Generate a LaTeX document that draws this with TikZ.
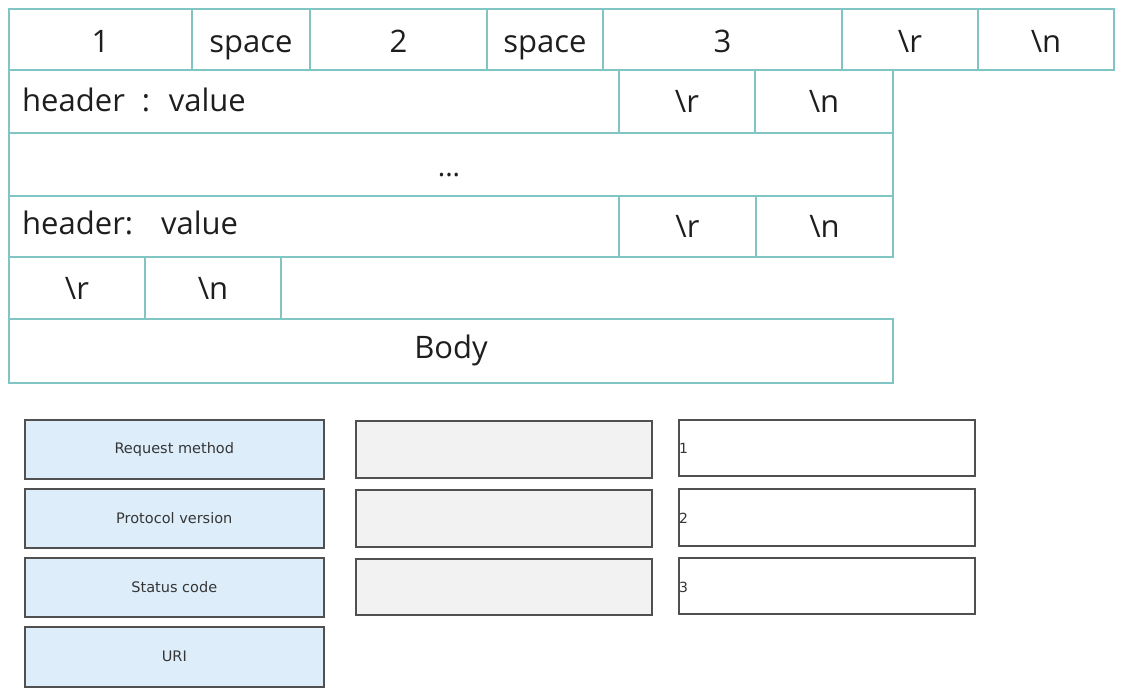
\documentclass[tikz,border=0pt]{standalone}
\usepackage{fontspec}
\setmainfont{Open Sans}
\newfontfamily\smallfont{DejaVu Sans}
\definecolor{teal1}{RGB}{128,196,196}
\definecolor{bluefill}{RGB}{221,238,250}
\definecolor{grayfill}{RGB}{242,242,242}
\definecolor{boxline}{RGB}{80,80,80}
\definecolor{txt}{RGB}{30,30,30}
\tikzset{
  cell/.style={draw=teal1, line width=2pt, rectangle, inner sep=0pt, anchor=north west,
    font=\fontsize{31}{33}\selectfont, text=txt, text height=22pt, text depth=0pt},
  freetxt/.style={anchor=base west, inner sep=0pt, font=\fontsize{31}{33}\selectfont, text=txt},
  lbox/.style={draw=boxline, line width=1.6pt, rectangle, inner sep=0pt, anchor=north west,
    fill=bluefill, font=\smallfont\fontsize{14.5}{16}\selectfont, text=txt!90},
  gbox/.style={draw=boxline, line width=1.6pt, rectangle, inner sep=0pt, anchor=north west,
    fill=grayfill},
  wbox/.style={draw=boxline, line width=1.6pt, rectangle, inner sep=0pt, anchor=north west,
    fill=white},
  numlbl/.style={anchor=west, inner sep=0pt, font=\smallfont\fontsize{14}{16}\selectfont, text=txt!90}
}
\begin{document}
\begin{tikzpicture}[x=1pt,y=-1pt]
\useasboundingbox (0,0) rectangle (1141,695);
% row 1
\node[cell, minimum width=183pt, minimum height=61pt, text height=26pt] (r1a) at (8,8) {1};
\node[cell, minimum width=118pt, minimum height=61pt, text height=26pt] (r1b) at (191,8) {space};
\node[cell, minimum width=177pt, minimum height=61pt, text height=26pt] (r1c) at (309,8) {2};
\node[cell, minimum width=116pt, minimum height=61pt, text height=26pt] (r1d) at (486,8) {space};
\node[cell, minimum width=239pt, minimum height=61pt, text height=26pt] (r1e) at (602,8) {3};
\node[cell, minimum width=136pt, minimum height=61pt, text height=26pt] (r1f) at (841,8) {\textbackslash r};
\node[cell, minimum width=136pt, minimum height=61pt, text height=26pt] (r1g) at (977,8) {\textbackslash n};
% row 2
\node[cell, minimum width=610pt, minimum height=63pt] (r2a) at (8,69) {};
\node[freetxt] (h1) at (22,112) {header\hspace{0.55em}:\hspace{0.6em}value};
\node[cell, minimum width=136pt, minimum height=63pt] (r2b) at (618,69) {\textbackslash r};
\node[cell, minimum width=138pt, minimum height=63pt] (r2c) at (754,69) {\textbackslash n};
% row 3
\node[cell, minimum width=884pt, minimum height=63pt] (r3) at (8,132) {};
\node[anchor=base, inner sep=0pt, font=\fontsize{28}{30}\selectfont, text=txt] (dots) at (449,177) {...};
% row 4
\node[cell, minimum width=610pt, minimum height=61pt] (r4a) at (8,195) {};
\node[freetxt] (h2) at (22,235) {header:\hspace{0.9em}value};
\node[cell, minimum width=137pt, minimum height=61pt] (r4b) at (618,195) {\textbackslash r};
\node[cell, minimum width=137pt, minimum height=61pt] (r4c) at (755,195) {\textbackslash n};
% row 5
\node[cell, minimum width=136pt, minimum height=62pt] (r5a) at (8,256) {\textbackslash r};
\node[cell, minimum width=136pt, minimum height=62pt] (r5b) at (144,256) {\textbackslash n};
% row 6
\node[cell, minimum width=884pt, minimum height=64pt, text height=14pt] (body) at (8,318) {Body};
% left column
\node[lbox, minimum width=299pt, minimum height=59pt] (rm) at (24,419) {Request method};
\node[lbox, minimum width=299pt, minimum height=59pt] (pv) at (24,488) {Protocol version};
\node[lbox, minimum width=299pt, minimum height=59pt] (sc) at (24,557) {Status code};
\node[lbox, minimum width=299pt, minimum height=60pt] (uri) at (24,626) {URI};
% middle column
\node[gbox, minimum width=296pt, minimum height=57pt] (g1) at (355,420) {};
\node[gbox, minimum width=296pt, minimum height=57pt] (g2) at (355,489) {};
\node[gbox, minimum width=296pt, minimum height=56pt] (g3) at (355,558) {};
% right column
\node[wbox, minimum width=296pt, minimum height=56pt] (w1) at (678,419) {};
\node[wbox, minimum width=296pt, minimum height=57pt] (w2) at (678,488) {};
\node[wbox, minimum width=296pt, minimum height=56pt] (w3) at (678,557) {};
\node[numlbl] (n1) at (679,448) {1};
\node[numlbl] (n2) at (679,518) {2};
\node[numlbl] (n3) at (679,587) {3};
\end{tikzpicture}
\end{document}
